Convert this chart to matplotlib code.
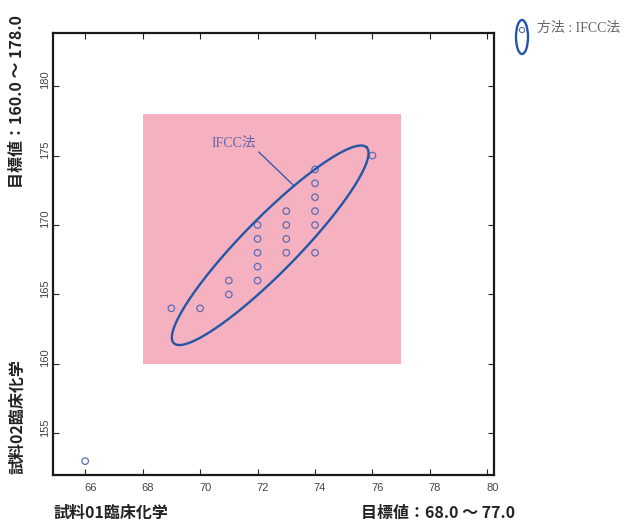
import numpy as np
import matplotlib
matplotlib.use("Agg")
import matplotlib.pyplot as plt
import matplotlib.transforms as mtransforms
from matplotlib.patches import Rectangle, Ellipse

plt.rcParams['font.family'] = ['Noto Sans CJK JP', 'DejaVu Sans']

# measurements: sample 01 (x) vs sample 02 (y)
x_vals = [66, 69, 70, 71, 71, 72, 72, 72, 72, 72, 73, 73, 73, 73, 74, 74, 74, 74, 74, 74, 76]
y_vals = [153, 164, 164, 166, 165, 170, 169, 168, 167, 166, 171, 170, 169, 168, 174, 173, 172, 171, 170, 168, 175]

# target ranges
target_x = [68.0, 77.0]
target_y = [160.0, 178.0]

# ellipse: centre, semi-major vector, semi-minor vector (data units)
ell_center = [72.44, 168.54]
ell_major = [3.355, 7.05]
ell_minor = [0.68, -1.38]

x_ticks = [66, 68, 70, 72, 74, 76, 78, 80]
y_ticks = [155, 160, 165, 170, 175, 180]

fig = plt.figure(figsize=(6.24, 5.22), dpi=100)
ax = fig.add_axes([0.0845, 0.0900, 0.7076, 0.8462])
ax.set_xlim(64.87, 80.24)
ax.set_ylim(152.0, 183.8)

ax.add_patch(Rectangle((target_x[0], target_y[0]), target_x[1] - target_x[0],
                       target_y[1] - target_y[0], facecolor='#f6b1c0',
                       edgecolor='none', zorder=0))

ax.scatter(x_vals, y_vals, s=22, facecolors='none', edgecolors='#5a6cb4',
           linewidths=0.9, zorder=3)

t = np.linspace(0, 2 * np.pi, 400)
ex = ell_center[0] + np.cos(t) * ell_major[0] + np.sin(t) * ell_minor[0]
ey = ell_center[1] + np.cos(t) * ell_major[1] + np.sin(t) * ell_minor[1]
ax.plot(ex, ey, color='#2456a6', lw=1.7, zorder=4)

# label with leader line
ax.annotate('IFCC法', xy=(73.28, 172.8), xytext=(70.39, 175.45),
            fontsize=10, color='#6a64a8',
            family=['Liberation Serif', 'Noto Sans CJK JP'],
            ha='left', va='bottom',
            arrowprops=dict(arrowstyle='-', color='#2456a6', lw=0.9,
                            shrinkA=0, shrinkB=0, relpos=(1.0, 0.0)),
            zorder=5)

ax.set_xticks(x_ticks)
ax.set_yticks(y_ticks)
ax.tick_params(direction='in', length=4, width=0.8, colors='#222222',
               top=True, right=True, labelsize=8, labelcolor='#444444')
ax.tick_params(axis='x', pad=6)
ax.tick_params(axis='y', pad=2)
for lab in ax.get_xticklabels():
    lab.set_family(['Liberation Sans'])
    lab.set_transform(lab.get_transform() +
                      mtransforms.ScaledTranslation(5 / 100, 0, fig.dpi_scale_trans))
for lab in ax.get_yticklabels():
    lab.set_family(['Liberation Sans'])
    lab.set_rotation(90)
    lab.set_va('center')
    lab.set_transform(lab.get_transform() +
                      mtransforms.ScaledTranslation(0, 6 / 100, fig.dpi_scale_trans))

for side in ['left', 'bottom', 'top', 'right']:
    ax.spines[side].set_color('#1a1a1a')
    ax.spines[side].set_linewidth(1.6)

lab_kw = dict(fontsize=11.5, fontweight='bold', color='#222222')
fig.text(53 / 624, 1 - 513 / 522, '試料01臨床化学', ha='left', va='center', **lab_kw)
fig.text(515 / 624, 1 - 513 / 522, '目標値：68.0 〜 77.0', ha='right', va='center', **lab_kw)
fig.text(17 / 624, 1 - 101 / 522, '目標値：160.0 〜 178.0', ha='center', va='center',
         rotation=90, **lab_kw)
fig.text(17 / 624, 1 - 417 / 522, '試料02臨床化学', ha='center', va='center',
         rotation=90, **lab_kw)

# legend glyph outside the plot
lax = fig.add_axes([0, 0, 1, 1], facecolor='none')
lax.set_xlim(0, 624)
lax.set_ylim(522, 0)
lax.axis('off')
lax.add_patch(Ellipse((522, 37), 12, 34, facecolor='none', edgecolor='#2456a6', lw=1.7))
lax.scatter([522], [30], s=14, facecolors='none', edgecolors='#5a6cb4', linewidths=0.8)
lax.text(537, 28, '方法 : IFCC法', fontsize=10, color='#666666',
         family=['Liberation Serif', 'Noto Sans CJK JP'], ha='left', va='center')

fig.savefig('out.png', dpi=100)
